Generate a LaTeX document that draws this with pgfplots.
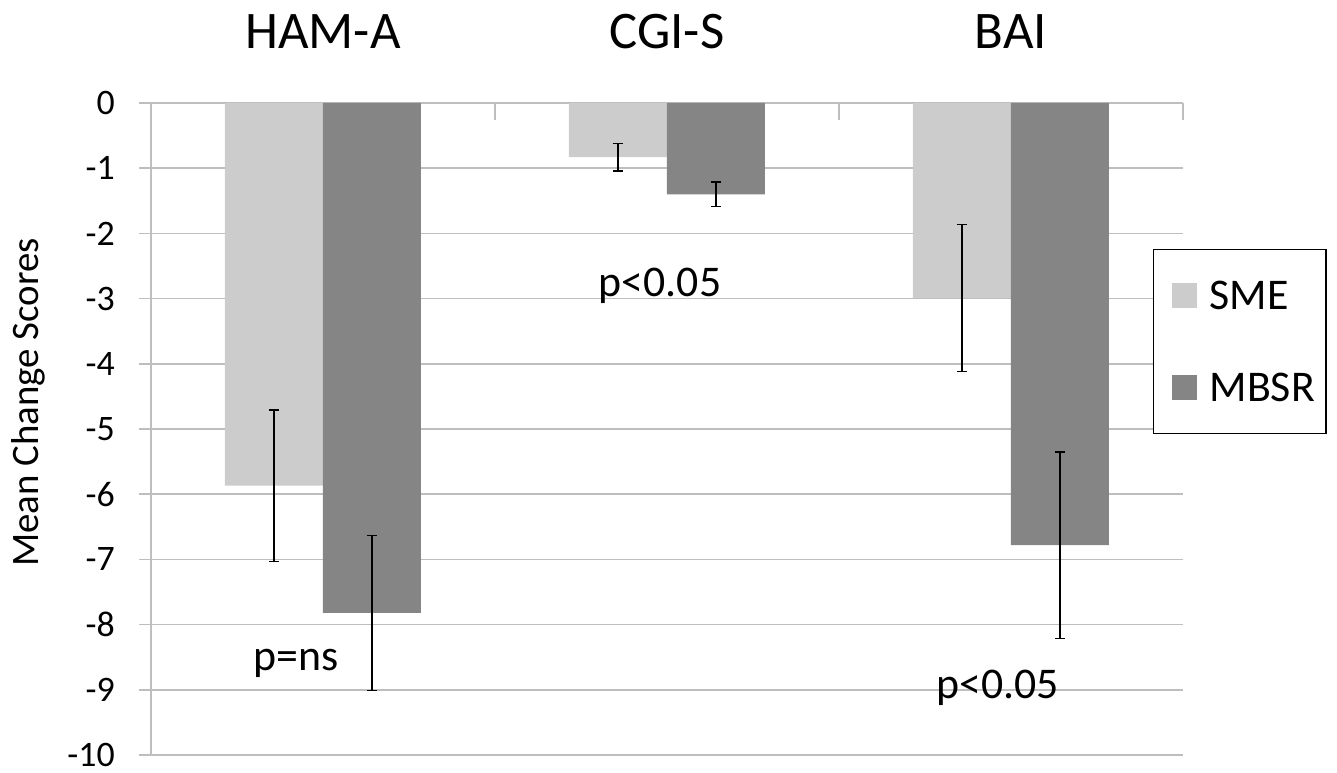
\documentclass[border=0pt]{standalone}
\usepackage{pgfplots}
\pgfplotsset{compat=1.18}
\usepackage{fontspec}
\setmainfont{Carlito}
\definecolor{smec}{RGB}{204,204,204}
\definecolor{mbsrc}{RGB}{133,133,133}
\definecolor{gridc}{RGB}{190,190,190}
\begin{document}
\begin{tikzpicture}
\useasboundingbox (-151bp,-18bp) rectangle (1186bp,755bp);
\begin{axis}[
  at={(0,0)}, anchor=south west,
  scale only axis,
  width=1032bp, height=652bp,
  xmin=-0.5, xmax=2.5, ymin=-10, ymax=0,
  axis x line*=top, axis y line*=left,
  axis line style={gridc, line width=1.5bp},
  ybar=0pt, bar width=98bp,
  xtick={0,1,2},
  xticklabels={HAM-A,CGI-S,BAI},
  xtick style={draw=none},
  xticklabel style={font=\fontsize{53}{58}\selectfont, anchor=base, inner sep=0pt, yshift=42bp},
  extra x ticks={-0.5,0.5,1.5,2.5},
  extra x tick labels={},
  extra x tick style={xtick style={draw=gridc, line width=1.5bp}, tick align=inside, major tick length=17bp},
  ytick={0,-1,-2,-3,-4,-5,-6,-7,-8,-9,-10},
  yticklabels={0,-1,-2,-3,-4,-5,-6,-7,-8,-9,-10},
  yticklabel style={font=\fontsize{36}{40}\selectfont, inner sep=0pt, anchor=east, xshift=-24bp},
  ytick style={draw=gridc, line width=1.5bp},
  tick align=outside, major tick length=12bp,
  ymajorgrids, grid style={gridc, line width=1.5bp},
  ylabel={Mean Change Scores},
  ylabel style={font=\fontsize{39}{44}\selectfont, at={(axis description cs:-0.119,0.541)}, anchor=center},
  legend style={at={(rel axis cs:0.971,0.776)}, anchor=north west, draw=black, line width=1.2bp,
    font=\fontsize{44}{48}\selectfont, inner xsep=11bp, inner ysep=31bp, row sep=62bp, column sep=13bp,
    nodes={inner sep=0pt},
    legend cell align=left},
]
\addplot[fill=smec, draw=none, legend image code/.code={\path (0bp,0bp); \fill[smec] (7bp,-12.5bp) rectangle (32bp,12.5bp);},
  error bars/.cd, y dir=both, y explicit, error bar style={line width=1.5bp, black},
  error mark options={rotate=90, mark size=5bp, line width=1.5bp, black}]
  coordinates {(0,-5.87) +- (0,1.16) (1,-0.83) +- (0,0.21) (2,-2.99) +- (0,1.13)};
\addplot[fill=mbsrc, draw=none, legend image code/.code={\path (0bp,0bp); \fill[mbsrc] (7bp,-12.5bp) rectangle (32bp,12.5bp);},
  error bars/.cd, y dir=both, y explicit, error bar style={line width=1.5bp, black},
  error mark options={rotate=90, mark size=5bp, line width=1.5bp, black}]
  coordinates {(0,-7.82) +- (0,1.19) (1,-1.40) +- (0,0.19) (2,-6.78) +- (0,1.43)};
\legend{SME,MBSR}
\node[anchor=base, font=\fontsize{44}{48}\selectfont, inner sep=0pt] at (axis cs:-0.078,-8.70) {p=ns};
\node[anchor=base, font=\fontsize{44}{48}\selectfont, inner sep=0pt] at (axis cs:0.98,-2.975) {p<0.05};
\node[anchor=base, font=\fontsize{44}{48}\selectfont, inner sep=0pt] at (axis cs:1.962,-9.13) {p<0.05};
\end{axis}
\end{tikzpicture}
\end{document}
